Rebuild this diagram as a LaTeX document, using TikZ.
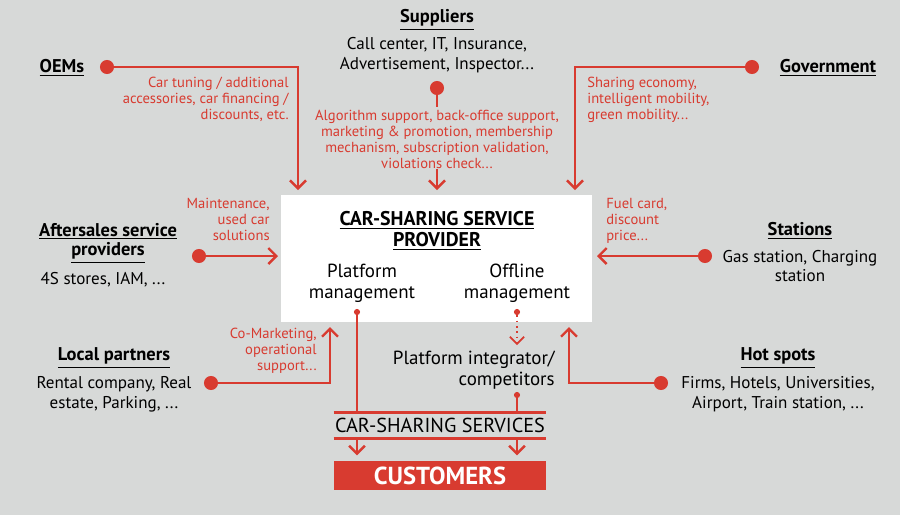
\documentclass[tikz,border=0pt]{standalone}
\usepackage{fontspec}
\setmainfont{PT Sans}
\usetikzlibrary{arrows.meta}
\definecolor{bgrey}{HTML}{D7D9D8}
\definecolor{cred}{HTML}{D83B30}
\begin{document}
\begin{tikzpicture}
			[x=0.02cm,y=-0.02cm,
			every node/.style={inner sep=0pt, font=\fontsize{9.7}{11.3}\selectfont},
			head/.style={align=center, font=\fontsize{10.5}{11.3}\selectfont\bfseries},
			body/.style={align=center},
			inbox/.style={align=center, font=\fontsize{10.8}{12}\selectfont},
			note/.style={text=cred, font=\fontsize{8.3}{9}\selectfont},
			dot/.style={circle, fill=cred, minimum size=8pt},
			pin/.style={circle, fill=cred, minimum size=3.5pt},
			link/.style={cred, line width=1.4pt},
			flow/.style={link, -{Straight Barb[length=4.5pt,width=9pt]}}]
	\fill[bgrey] (0,0) rectangle (900,515);
	\useasboundingbox (0,0) rectangle (900,515);
	% provider in the middle
	\node (csp) [fill=white, minimum width=6.22cm, minimum height=2.54cm] at (436.5,258.5) {};
	\node (cspT) [head, font=\fontsize{11.3}{12}\selectfont\bfseries] at (437,231) {\underline{CAR-SHARING SERVICE}\\
									\underline{PROVIDER}};
	\node (pm) [inbox] at (362,283) {Platform\\management};
	\node (om) [inbox] at (517,283) {Offline\\management};
	\node (pmP) [pin] at (357,312) {};
	\node (omP) [pin] at (517,312) {};
	% OEMs
	\node (oemT) [head] at (62,68) {\underline{OEMs}};
	\node (oem) [dot] at (107,67) {};
	\coordinate (oemE) at (298,190);
	\draw[flow] (oem) -| (oemE);
	\node (oemN) [note, align=right, anchor=north east] at (289,77) {Car tuning / additional\\
									accessories, car financing /\\
									discounts, etc.};
	% suppliers
	\node (supT) [head] at (437,20) {\underline{Suppliers}};
	\node (supB) [body] at (437,55) {Call center, IT, Insurance,\\
									Advertisement, Inspector...};
	\node (sup) [dot] at (437,88) {};
	\coordinate (supK) at (437,107);
	\draw[link] (sup) -- (supK);
	\node (supN) [note, align=center, anchor=north] at (437,110) {Algorithm support, back-office support,\\
									marketing \& promotion, membership\\
									mechanism, subscription validation,\\
									violations check...};
	\coordinate (supE) at (437,190);
	\draw[flow] (supN.south) -- (supE);
	% government
	\node (govT) [head] at (828,68) {\underline{Government}};
	\node (gov) [dot] at (752,67) {};
	\coordinate (govE) at (575,190);
	\draw[flow] (gov) -| (govE);
	\node (govN) [note, align=left, anchor=north west] at (587,77) {Sharing economy,\\
									intelligent mobility,\\
									green mobility...};
	% aftersales
	\node (aftT) [head] at (108,243) {\underline{Aftersales service}\\
									\underline{providers}};
	\node (aftB) [body] at (103,280) {4S stores, IAM, ...};
	\node (aft) [dot] at (199,256) {};
	\coordinate (aftE) at (278,256);
	\draw[flow] (aft) -- (aftE);
	\node (aftN) [note, align=right, anchor=north east] at (270,198) {Maintenance,\\
									used car\\
									solutions};
	% stations
	\node (staT) [head] at (800,231) {\underline{Stations}};
	\node (staB) [body] at (800,266) {Gas station, Charging\\
									station};
	\node (sta) [dot] at (705,256) {};
	\coordinate (staE) at (597,256);
	\draw[flow] (sta) -- (staE);
	\node (staN) [note, align=left, anchor=north west] at (606,198) {Fuel card,\\
									discount\\
									price...};
	% local partners
	\node (locT) [head] at (114,358) {\underline{Local partners}};
	\node (locB) [body] at (114,394) {Rental company, Real\\
									estate, Parking, ...};
	\node (loc) [dot] at (211,383) {};
	\coordinate (locE) at (330,327);
	\draw[flow] (loc) -| (locE);
	\node (locN) [note, align=right, anchor=north east] at (317,328) {Co-Marketing,\\
									operational\\
									support...};
	% hot spots
	\node (hotT) [head] at (778,358) {\underline{Hot spots}};
	\node (hotB) [body] at (778,394) {Firms, Hotels, Universities,\\
									Airport, Train station, ...};
	\node (hot) [dot] at (661,383) {};
	\coordinate (hotE) at (569,327);
	\draw[flow] (hot) -| (hotE);
	% services and customers
	\node (pic) [inbox, align=right, anchor=east] at (555,370) {Platform integrator/\\
									competitors};
	\coordinate (omE) at (517,345);
	\draw[cred, line width=1pt, dotted, -{Straight Barb[length=4pt,width=8pt]}] (omP) -- (omE);
	\node (picP) [pin] at (517,395) {};
	\node (css) [minimum width=4.24cm, minimum height=0.5cm, font=\fontsize{11.5}{12}\selectfont] at (440,425.5) {CAR-SHARING SERVICES};
	\draw[link] (css.north west) -- (css.north east);
	\draw[link] (css.south west) -- (css.south east);
	\draw[link] (pmP) -- (pmP |- css.north);
	\draw[link] (picP) -- (picP |- css.north);
	\node (cus) [fill=cred, text=white, minimum width=4.24cm, minimum height=0.58cm, font=\fontsize{14}{15}\selectfont\bfseries] at (440,475.5) {CUSTOMERS};
	\draw[flow, shorten >=3pt] (pmP |- css.south) -- (pmP |- cus.north);
	\draw[flow, shorten >=3pt] (picP |- css.south) -- (picP |- cus.north);
\end{tikzpicture}
\end{document}
